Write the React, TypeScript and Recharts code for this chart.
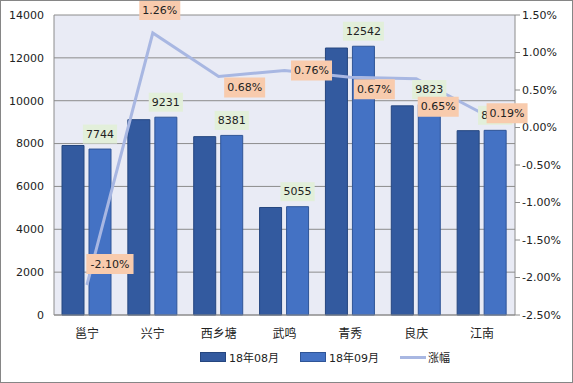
import {
  ComposedChart,
  Bar,
  Line,
  XAxis,
  YAxis,
  CartesianGrid,
  Legend,
  LabelList,
} from "recharts";

const districts = ["邕宁", "兴宁", "西乡塘", "武鸣", "青秀", "良庆", "江南"];
const aug = [7910, 9116, 8324, 5017, 12459, 9760, 8602];
const sep = [7744, 9231, 8381, 5055, 12542, 9823, 8618];
const change = [-2.1, 1.26, 0.68, 0.76, 0.67, 0.65, 0.19];

const leftTicks = [0, 2000, 4000, 6000, 8000, 10000, 12000, 14000];
const rightTicks = [-2.5, -2, -1.5, -1, -0.5, 0, 0.5, 1, 1.5];

const chartData = districts.map((name, i) => ({
  name,
  aug: aug[i],
  sep: sep[i],
  change: change[i],
}));

const FONT = "'DejaVu Sans', 'Noto Sans CJK SC', sans-serif";
const AUG_COLOR = "#335A9F";
const SEP_COLOR = "#4472C4";
const LINE_COLOR = "#A8B7E2";

// where each 涨幅 label sits relative to its point
const pctOffsets = [
  [23, -21],
  [7, -23],
  [26, 11],
  [27, 0],
  [24, 12],
  [22, 28],
  [25, 0],
];

const PctLabel = (props: any) => {
  const { x, y, value, index } = props;
  const text = `${Number(value).toFixed(2)}%`;
  const [dx, dy] = pctOffsets[index] || [20, 0];
  const w = text.length * 6.2 + 10;
  const h = 20;
  const cx = x + dx;
  const cy = y + dy;
  return (
    <g>
      <rect x={cx - w / 2} y={cy - h / 2} width={w} height={h} fill="#F8CBAD" />
      <text
        x={cx}
        y={cy}
        textAnchor="middle"
        dominantBaseline="central"
        fontSize={11}
        fontFamily={FONT}
        fill="#222"
      >
        {text}
      </text>
    </g>
  );
};

const BarValueLabel = (props: any) => {
  const { x, y, width, value } = props;
  const text = String(value);
  const w = text.length * 6.8 + 7;
  const h = 19;
  const cx = x + width / 2;
  const cy = y - 15;
  return (
    <g>
      <rect x={cx - w / 2} y={cy - h / 2} width={w} height={h} fill="#E2EFDA" />
      <text
        x={cx}
        y={cy}
        textAnchor="middle"
        dominantBaseline="central"
        fontSize={11}
        fontFamily={FONT}
        fill="#222"
      >
        {text}
      </text>
    </g>
  );
};

const LegendContent = () => (
  <div
    style={{
      display: "flex",
      justifyContent: "center",
      alignItems: "center",
      height: 24,
      paddingLeft: 77,
      fontFamily: FONT,
      fontSize: 11,
      color: "#222",
    }}
  >
    <span style={{ display: "flex", alignItems: "center", marginRight: 21 }}>
      <span
        style={{
          width: 24,
          height: 8,
          background: AUG_COLOR,
          border: "1px solid #25467f",
          marginRight: 3,
        }}
      />
      18年08月
    </span>
    <span style={{ display: "flex", alignItems: "center", marginRight: 21 }}>
      <span
        style={{
          width: 24,
          height: 8,
          background: SEP_COLOR,
          border: "1px solid #2F5597",
          marginRight: 3,
        }}
      />
      18年09月
    </span>
    <span style={{ display: "flex", alignItems: "center" }}>
      <span
        style={{ width: 26, height: 3, background: LINE_COLOR, marginRight: 2 }}
      />
      涨幅
    </span>
  </div>
);

export default function App() {
  return (
    <div
      style={{
        position: "absolute",
        left: 0,
        top: 0,
        width: 573,
        height: 383,
        boxSizing: "border-box",
        border: "1px solid #868686",
        background: "#fff",
      }}
    >
      <ComposedChart
        width={571}
        height={381}
        data={chartData}
        margin={{ top: 14, right: 7, left: 8, bottom: 13 }}
        barSize={22}
        barGap={5}
      >
        <CartesianGrid
          vertical={false}
          stroke="#8C8C8C"
          fill="#E9EBF5"
          yAxisId="left"
        />
        <XAxis
          dataKey="name"
          height={30}
          axisLine={{ stroke: "#8C8C8C" }}
          tickLine={false}
          tick={{ fontSize: 12, fontFamily: FONT, fill: "#222" }}
          dy={6}
          interval={0}
        />
        <YAxis
          yAxisId="left"
          width={45}
          domain={[0, 14000]}
          ticks={leftTicks}
          axisLine={{ stroke: "#8C8C8C" }}
          tickLine={false}
          tick={{ fontSize: 11, fontFamily: FONT, fill: "#222" }}
          dx={-2}
        />
        <YAxis
          yAxisId="right"
          orientation="right"
          width={50}
          domain={[-2.5, 1.5]}
          ticks={rightTicks}
          axisLine={{ stroke: "#8C8C8C" }}
          tickLine={{ stroke: "#8C8C8C" }}
          tickSize={5}
          tickFormatter={(v: number) => `${v.toFixed(2)}%`}
          tick={{ fontSize: 11, fontFamily: FONT, fill: "#222" }}
        />
        <Legend
          verticalAlign="bottom"
          wrapperStyle={{ left: 0, width: 571 }}
          content={<LegendContent />}
        />
        <Bar
          yAxisId="left"
          dataKey="aug"
          name="18年08月"
          fill={AUG_COLOR}
          stroke="#25467f"
          strokeWidth={1}
          isAnimationActive={false}
        />
        <Bar
          yAxisId="left"
          dataKey="sep"
          name="18年09月"
          fill={SEP_COLOR}
          stroke="#2F5597"
          strokeWidth={1}
          isAnimationActive={false}
        >
          <LabelList dataKey="sep" content={<BarValueLabel />} />
        </Bar>
        <Line
          yAxisId="right"
          dataKey="change"
          name="涨幅"
          type="linear"
          stroke={LINE_COLOR}
          strokeWidth={3}
          dot={false}
          activeDot={false}
          isAnimationActive={false}
        >
          <LabelList dataKey="change" content={<PctLabel />} />
        </Line>
      </ComposedChart>
    </div>
  );
}
